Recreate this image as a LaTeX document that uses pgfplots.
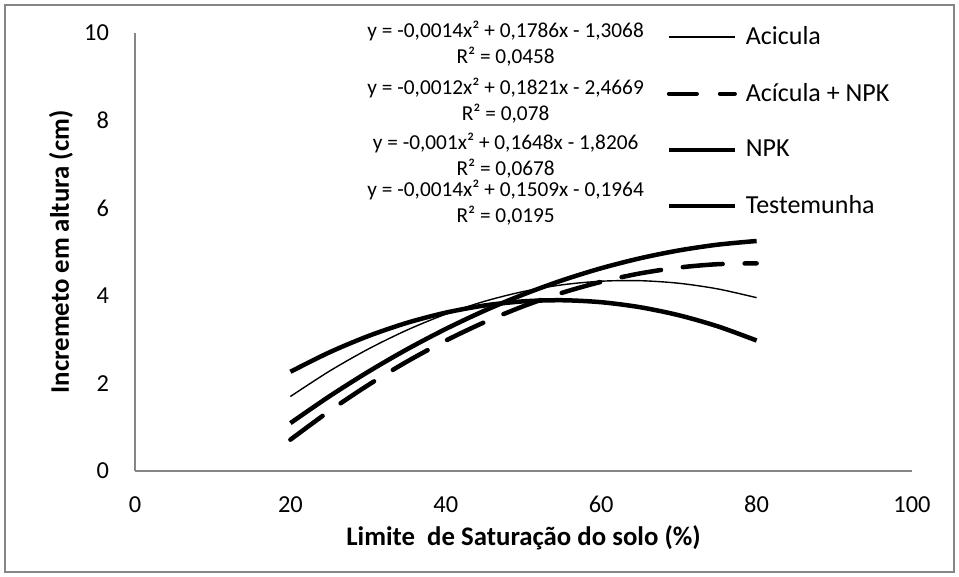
\documentclass[border=0pt]{standalone}
\usepackage{fontspec}
\setmainfont{Carlito}
\usepackage{pgfplots}
\pgfplotsset{compat=1.18}
\definecolor{axgray}{RGB}{134,134,134}
\begin{document}
\begin{tikzpicture}
\begin{axis}[
  scale only axis, width=388.5pt, height=219pt,
  xmin=0, xmax=100, ymin=0, ymax=10,
  axis x line*=bottom, axis y line*=left,
  axis line style={draw=axgray, line width=0.75pt},
  xtick={0,20,...,100}, ytick={0,2,...,10},
  major tick length=0pt,
  tick label style={font=\fontsize{12.2}{14}\selectfont, black},
  /pgf/number format/assume math mode=true,
  xticklabel style={anchor=base, yshift=-21pt},
  yticklabel style={xshift=-9.5pt},
  xlabel={Limite\ \ de Saturação do solo (\%)},
  ylabel={Incremeto em altura (cm)},
  label style={font=\fontsize{13.4}{15}\selectfont\bfseries},
  xlabel style={at={(axis description cs:0.5,-0.153)}, anchor=center},
  ylabel style={at={(axis description cs:-0.0952,0.5)}, anchor=center},
  legend image code/.code={\draw[#1] (0pt,0pt) -- (33pt,0pt);},
  legend cell align=left,
  legend style={draw=none, fill=none, at={(axis description cs:0.684,1.018)}, anchor=north west,
    font=\fontsize{13}{15}\selectfont, row sep=16.8pt, inner sep=0pt,
    nodes={inner sep=0.5pt},
    /tikz/every odd column/.append style={column sep=4pt}},
  clip=false,
]
\addlegendimage{black, line width=0.8pt}
\addlegendimage{black, line width=2pt, line cap=round, dash pattern=on 14pt off 11.5pt}
\addlegendimage{black, line width=2pt}
\addlegendimage{black, line width=2pt}
\legend{Acicula, Acícula + NPK, NPK, Testemunha}

% Acicula
\addplot[black, line width=0.7pt, smooth, forget plot] coordinates {
(20,1.7012) (25,2.2770) (30,2.7822) (35,3.2170) (40,3.5812) (45,3.8750) (50,4.0982)
(55,4.2510) (60,4.3332) (65,4.3450) (70,4.2862) (75,4.1570) (80,3.9572)};
% Acicula + NPK
\addplot[black, line width=2.25pt, line cap=round, dash pattern=on 20pt off 11pt, smooth, forget plot] coordinates {
(20,0.7151) (25,1.3669) (30,1.9611) (35,2.4979) (40,2.9771) (45,3.3989) (50,3.7631)
(55,4.0699) (60,4.3191) (65,4.5109) (70,4.6451) (75,4.7219) (80,4.7411)};
% NPK
\addplot[black, line width=2.25pt, smooth, forget plot] coordinates {
(20,1.0934) (25,1.7025) (30,2.2639) (35,2.7775) (40,3.2434) (45,3.6615) (50,4.0319)
(55,4.3545) (60,4.6294) (65,4.8565) (70,5.0359) (75,5.1675) (80,5.2514)};
% Testemunha
\addplot[black, line width=2.25pt, smooth, forget plot] coordinates {
(20,2.2656) (25,2.7074) (30,3.0796) (35,3.3824) (40,3.6156) (45,3.7794) (50,3.8736)
(55,3.8984) (60,3.8536) (65,3.7394) (70,3.5556) (75,3.3024) (80,2.9796)};

\begin{scope}[every node/.style={align=center, inner sep=0pt, font=\fontsize{10.65}{13}\selectfont}]
\node at (axis cs:47.7,9.75) {y = -0,0014x² + 0,1786x - 1,3068\\R² = 0,0458};
\node at (axis cs:47.7,8.45) {y = -0,0012x² + 0,1821x - 2,4669\\R² = 0,078};
\node at (axis cs:47.7,7.21) {y = -0,001x² + 0,1648x - 1,8206\\R² = 0,0678};
\node at (axis cs:47.7,6.13) {y = -0,0014x² + 0,1509x - 0,1964\\R² = 0,0195};
\end{scope}
\coordinate (O) at (axis cs:0,0);
\end{axis}
\draw[axgray, line width=0.75pt] ([shift={(-65pt,-50.5pt)}]O) rectangle ([shift={(409.5pt,233pt)}]O);
\useasboundingbox ([shift={(-67.5pt,-53pt)}]O) rectangle ([shift={(412pt,235.5pt)}]O);
\end{tikzpicture}
\end{document}
